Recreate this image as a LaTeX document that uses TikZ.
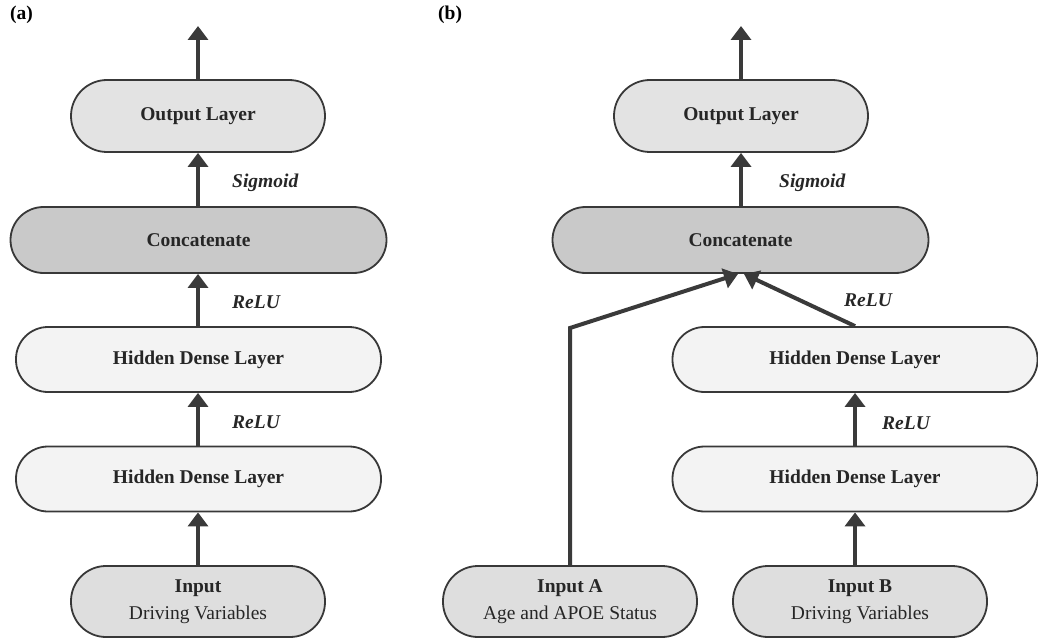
\documentclass[tikz,border=0pt]{standalone}
\usepackage{fontspec}
\setmainfont{Liberation Serif}
\usetikzlibrary{arrows.meta}
\definecolor{linec}{HTML}{383838}
\definecolor{arrc}{HTML}{3A3A3A}
\definecolor{outc}{HTML}{E3E3E3}
\definecolor{catc}{HTML}{C9C9C9}
\definecolor{hidc}{HTML}{F3F3F3}
\definecolor{inpc}{HTML}{DEDEDE}
\begin{document}
\begin{tikzpicture}[x=1pt,y=-1pt,
  layer/.style={draw=linec, line width=1.8pt, inner sep=0pt, text=black!85,
    font=\fontsize{19.5}{27}\selectfont\bfseries},
  outbox/.style={layer, fill=outc, minimum width=254pt, minimum height=72pt, rounded corners=36pt},
  catbox/.style={layer, fill=catc, minimum width=376pt, minimum height=66pt, rounded corners=33pt},
  hidbox/.style={layer, fill=hidc, minimum width=365pt, minimum height=65pt, rounded corners=32pt},
  inbox/.style={layer, fill=inpc, minimum width=254pt, minimum height=71pt, rounded corners=35pt, align=center},
  arr/.style={draw=arrc, line width=4pt, -{Triangle[width=20pt,length=14pt]}},
  act/.style={anchor=west, inner sep=0pt, text=black!85, font=\fontsize{19.5}{23}\selectfont\bfseries\itshape},
  panel/.style={anchor=west, inner sep=0pt, font=\fontsize{19.5}{23}\selectfont\bfseries}
]
\useasboundingbox (0,0) rectangle (1038,639);

% ---------- panel (a) ----------
\node[panel] (la) at (10,15) {(a)};
\node[outbox] (oa) at (198,116) {Output Layer};
\node[catbox] (ca) at (198.5,240) {Concatenate};
\node[hidbox] (h1a) at (198.5,359.5) {Hidden Dense Layer};
\node[hidbox] (h2a) at (198.5,479) {Hidden Dense Layer};
\node[inbox] (ia) at (198,601.5) {Input\\\mdseries Driving Variables};
\coordinate (ta) at (198,26);

\draw[arr] (oa.north) -- (ta);
\draw[arr] (ca.north -| oa.south) -- (oa.south);
\draw[arr] (h1a.north -| oa.south) -- (ca.south -| oa.south);
\draw[arr] (h2a.north -| oa.south) -- (h1a.south -| oa.south);
\draw[arr] (ia.north) -- (h2a.south -| ia.north);

\node[act] (sa) at (232,183) {Sigmoid};
\node[act] (r1a) at (232,302) {ReLU};
\node[act] (r2a) at (232,422) {ReLU};

% ---------- panel (b) ----------
\node[panel] (lb) at (438,15) {(b)};
\node[outbox] (ob) at (741,116) {Output Layer};
\node[catbox] (cb) at (740.5,240) {Concatenate};
\node[hidbox] (h1b) at (855,359.5) {Hidden Dense Layer};
\node[hidbox] (h2b) at (855,479) {Hidden Dense Layer};
\node[inbox] (iA) at (570,601.5) {Input A\\\mdseries Age and APOE Status};
\node[inbox] (iB) at (860,601.5) {Input B\\\mdseries Driving Variables};
\coordinate (tb) at (741,26);
\coordinate (bend) at (570,328);
\coordinate (tipA) at (738,274);
\coordinate (tipB) at (744,274);

\draw[arr] (ob.north) -- (tb);
\draw[arr] (cb.north -| ob.south) -- (ob.south);
\draw[arr] (iA.north) -- (bend) -- (tipA);
\draw[arr] (h1b.north) -- (tipB);
\draw[arr] (h2b.north) -- (h1b.south);
\draw[arr] (iB.north -| h2b.south) -- (h2b.south);

\node[act] (sb) at (779,183) {Sigmoid};
\node[act] (r1b) at (844,300) {ReLU};
\node[act] (r2b) at (882,423) {ReLU};
\end{tikzpicture}
\end{document}
